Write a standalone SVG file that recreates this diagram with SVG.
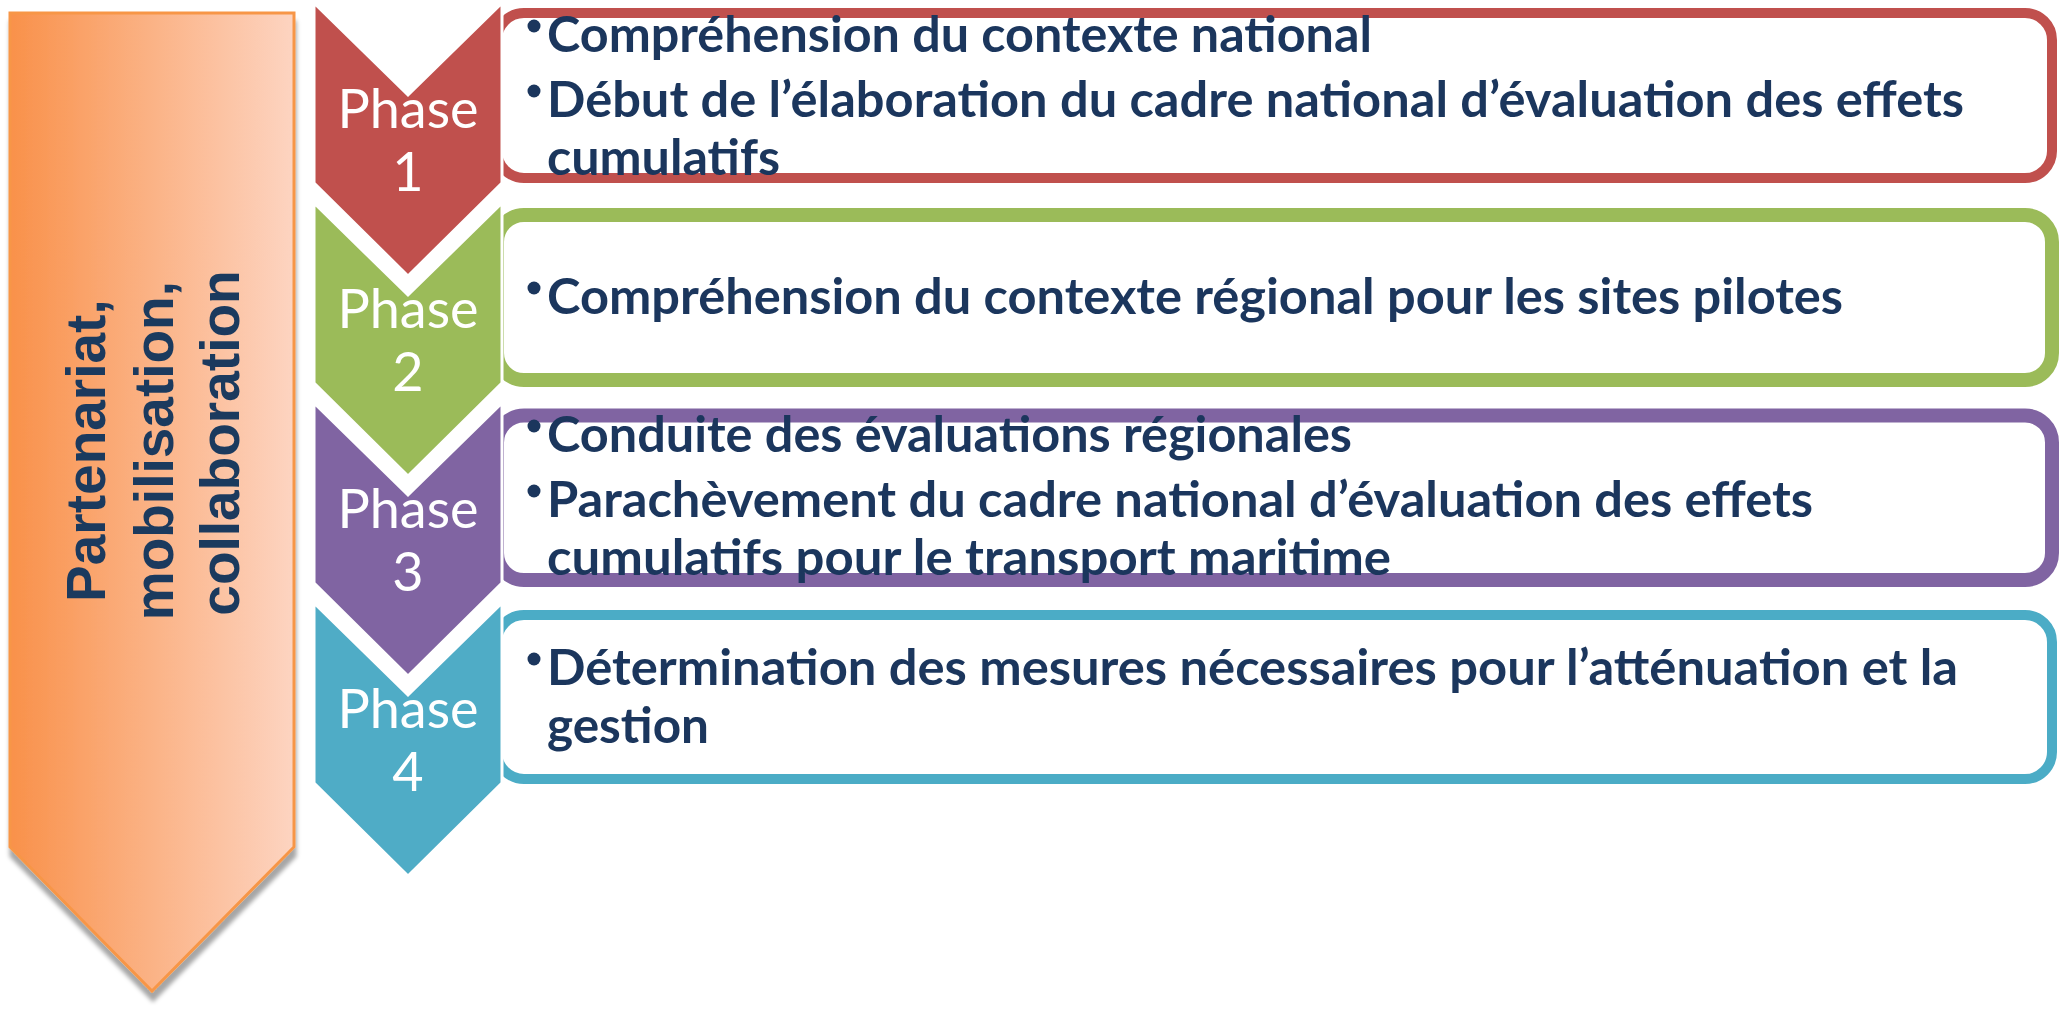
<svg xmlns="http://www.w3.org/2000/svg" width="2068" height="1014" viewBox="0 0 2068 1014">
  <defs>
    <linearGradient id="og" x1="0" y1="0" x2="1" y2="0">
      <stop offset="0" stop-color="#F9914A"/>
      <stop offset="1" stop-color="#FDD4C1"/>
    </linearGradient>
    <filter id="sh" x="-10%" y="-5%" width="120%" height="115%">
      <feDropShadow dx="1" dy="9" stdDeviation="2" flood-color="#000" flood-opacity="0.35"/>
    </filter>
    <style>
      .side { font-family: "Liberation Sans", Arial, sans-serif; font-weight: bold; font-size: 55px; fill: #1B3A5E; text-anchor: middle; }
      .ph { font-family: Lato, "Open Sans", sans-serif; font-size: 54px; fill: #FFFFFF; text-anchor: middle; }
      .tx { font-family: Lato, "Open Sans", sans-serif; font-weight: bold; font-size: 49px; fill: #1B365D; }
      .chev { stroke: #FFFFFF; stroke-width: 3; }
      .box { fill: #FFFFFF; }
      .bul { fill: #1B365D; }
    </style>
  </defs>
  <rect width="2068" height="1014" fill="#FFFFFF"/>

  <g id="side">
    <path d="M10,13 L294,13 L294,847 L152,991 L10,847 Z" fill="url(#og)" stroke="#F79646" stroke-width="3" filter="url(#sh)"/>
    <text class="side" transform="translate(0,443) rotate(-90)">
      <tspan x="0" y="105">Partenariat,</tspan>
      <tspan x="0" y="173">mobilisation,</tspan>
      <tspan x="0" y="239">collaboration</tspan>
    </text>
  </g>

  <g id="connectors"/>

  <g id="phase1">
    <rect class="box" x="497" y="13" width="1555" height="165" rx="27" stroke="#C0504D" stroke-width="10"/>
    <path class="chev" d="M314,3 L408,95 L502,3 L502,183 L408,276 L314,183 Z" fill="#C0504D"/>
    <text class="ph" x="408" y="128">Phase</text>
    <text class="ph" x="408" y="191">1</text>
    <circle class="bul" cx="534" cy="26" r="6.5"/>
    <text class="tx" x="547" y="52" textLength="825" lengthAdjust="spacingAndGlyphs">Compréhension du contexte national</text>
    <circle class="bul" cx="534" cy="91" r="6.5"/>
    <text class="tx" x="547" y="117" textLength="1417" lengthAdjust="spacingAndGlyphs">Début de l’élaboration du cadre national d’évaluation des effets</text>
    <text class="tx" x="547" y="175" textLength="233" lengthAdjust="spacingAndGlyphs">cumulatifs</text>
  </g>

  <g id="phase2">
    <rect class="box" x="497" y="215" width="1555" height="165" rx="27" stroke="#9BBB59" stroke-width="14"/>
    <path class="chev" d="M314,203 L408,295 L502,203 L502,383 L408,476 L314,383 Z" fill="#9BBB59"/>
    <text class="ph" x="408" y="328">Phase</text>
    <text class="ph" x="408" y="391">2</text>
    <circle class="bul" cx="534" cy="288" r="6.5"/>
    <text class="tx" x="547" y="314" textLength="1296" lengthAdjust="spacingAndGlyphs">Compréhension du contexte régional pour les sites pilotes</text>
  </g>

  <g id="phase3">
    <rect class="box" x="497" y="415.5" width="1555" height="164.5" rx="27" stroke="#8064A2" stroke-width="14"/>
    <path class="chev" d="M314,403 L408,495 L502,403 L502,583 L408,676 L314,583 Z" fill="#8064A2"/>
    <text class="ph" x="408" y="528">Phase</text>
    <text class="ph" x="408" y="591">3</text>
    <circle class="bul" cx="534" cy="426" r="6.5"/>
    <text class="tx" x="547" y="452" textLength="805" lengthAdjust="spacingAndGlyphs">Conduite des évaluations régionales</text>
    <circle class="bul" cx="534" cy="491" r="6.5"/>
    <text class="tx" x="547" y="517" textLength="1266" lengthAdjust="spacingAndGlyphs">Parachèvement du cadre national d’évaluation des effets</text>
    <text class="tx" x="547" y="575" textLength="844" lengthAdjust="spacingAndGlyphs">cumulatifs pour le transport maritime</text>
  </g>

  <g id="phase4">
    <rect class="box" x="497" y="615" width="1555" height="164" rx="27" stroke="#4BACC6" stroke-width="10"/>
    <path class="chev" d="M314,603 L408,695 L502,603 L502,783 L408,876 L314,783 Z" fill="#4FACC6"/>
    <text class="ph" x="408" y="728">Phase</text>
    <text class="ph" x="408" y="791">4</text>
    <circle class="bul" cx="534" cy="659" r="6.5"/>
    <text class="tx" x="547" y="685" textLength="1411" lengthAdjust="spacingAndGlyphs">Détermination des mesures nécessaires pour l’atténuation et la</text>
    <text class="tx" x="547" y="743" textLength="162" lengthAdjust="spacingAndGlyphs">gestion</text>
  </g>
</svg>
